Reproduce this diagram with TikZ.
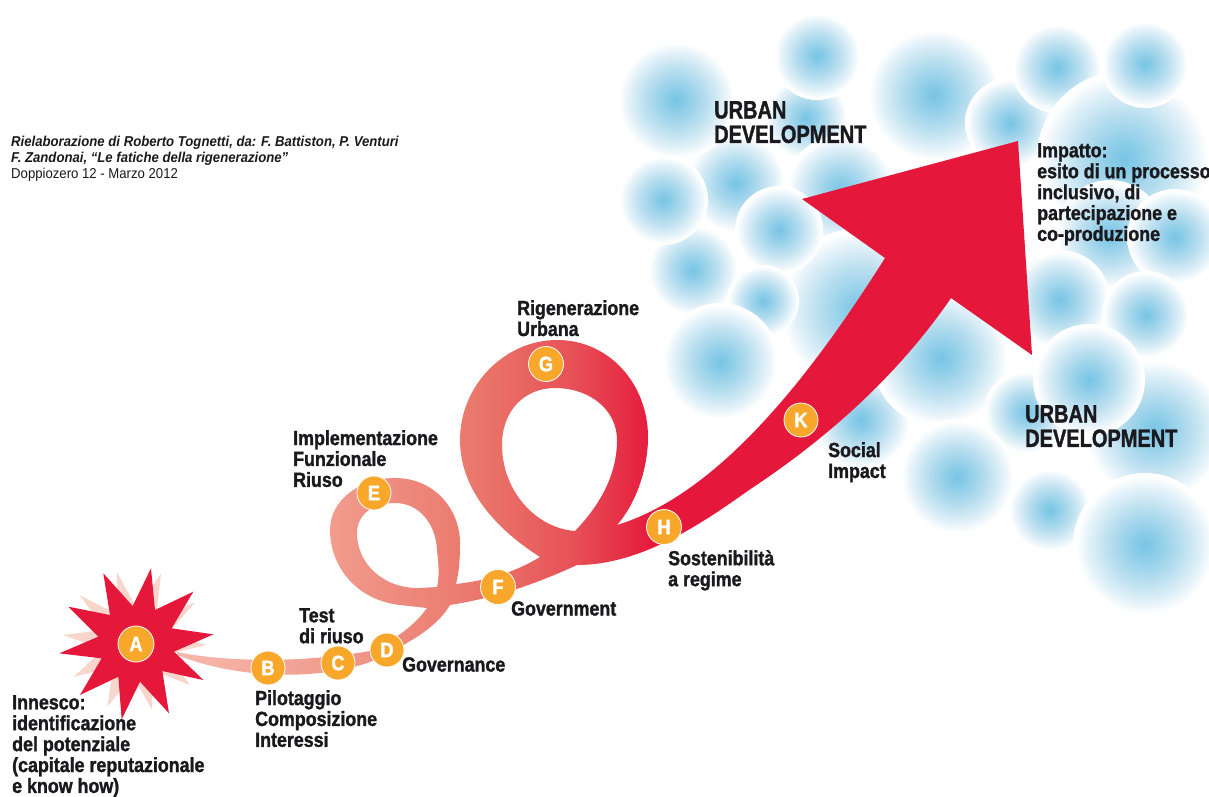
\documentclass[tikz,border=0pt]{standalone}
\usepackage{fontspec}
\setmainfont{Liberation Sans}
\newfontfamily\lblfont[FakeStretch=0.87,FakeBold=1.4]{Liberation Sans Bold}
\newfontfamily\urbfont[FakeStretch=0.8,FakeBold=1.4]{Liberation Sans Bold}
\newfontfamily\capfont[FakeStretch=0.92]{Liberation Sans}
\definecolor{bubC}{HTML}{78C4E4}
\definecolor{bubA}{HTML}{8ACCE8}
\definecolor{bubM}{HTML}{B8DEEF}
\definecolor{bubN}{HTML}{E4F2F9}
\definecolor{redA}{HTML}{E5173A}
\definecolor{pinkS}{HTML}{F9D6CC}
\definecolor{orangeN}{HTML}{F9A72B}
\definecolor{textK}{HTML}{1A1A1E}
\definecolor{ribA}{HTML}{F7BAAE}
\definecolor{ribB}{HTML}{F19C8E}
\definecolor{ribC}{HTML}{EA766A}
\definecolor{ribD}{HTML}{E75258}
\pgfdeclareradialshading{bubble}{\pgfpoint{0bp}{0bp}}{%
 color(0bp)=(bubC); color(4bp)=(bubA); color(12.5bp)=(bubM); color(20bp)=(bubN); color(24bp)=(white); color(25bp)=(white); color(50bp)=(white)}
\pgfdeclarehorizontalshading{ribbon}{100bp}{%
 color(0bp)=(ribA); color(25bp)=(ribA); color(34.2bp)=(ribB); color(42.8bp)=(ribC); color(48bp)=(ribD); color(53bp)=(redA); color(56bp)=(redA); color(100bp)=(redA)}
\tikzset{
  bub/.style={shading=bubble,draw=none},
  step node/.style={circle,fill=orangeN,draw=white,line width=0.8pt,minimum size=#1,inner sep=0pt,text=white,font=\lblfont\fontsize{21}{21}\selectfont},
  lbl/.style={anchor=north west,align=left,inner sep=0pt,text=textK,font=\lblfont\fontsize{20.5}{20.9}\selectfont},
  urb/.style={anchor=north west,align=left,inner sep=0pt,text=textK,font=\urbfont\fontsize{25}{24.5}\selectfont},
  captxt/.style={anchor=north west,align=left,inner sep=0pt,text=textK,font=\capfont\fontsize{14.3}{16.2}\selectfont}
}
\newcommand{\bb}[3]{\path[bub] (#1,#2) circle[radius=#3];}
\begin{document}
\begin{tikzpicture}[x=1pt,y=-1pt]
\useasboundingbox (0,0) rectangle (1209,796);
\fill[white] (0,0) rectangle (1209,796);
% bubbles, back to front
\bb{806}{118}{42}
\bb{841}{190}{55}
\bb{736}{183}{50}
\bb{676}{100}{60}
\bb{934}{95}{68}
\bb{817}{56}{44}
\bb{1010}{123}{45}
\bb{1057}{68}{45}
\bb{1124}{158}{87}
\bb{1145}{64}{44}
\bb{1110}{235}{55}
\bb{1175}{237}{48}
\bb{1060}{300}{50}
\bb{1146}{315}{44}
\bb{693}{270}{46}
\bb{663}{200}{45}
\bb{860}{310}{82}
\bb{779}{230}{44}
\bb{763}{301}{36}
\bb{720}{362}{59}
\bb{861}{420}{50}
\bb{941}{358}{69}
\bb{1155}{430}{72}
\bb{1026}{412}{42}
\bb{1089}{380}{56}
\bb{957}{477}{58}
\bb{1050}{510}{42}
\bb{1145}{545}{72}
% ribbon (one outline with the two loop holes)
\begin{scope}
\clip (177,652) .. controls (215,660) and (290,665) .. (370,651)
  .. controls (395,640) and (415,625) .. (427,608)
  -- (400,605) .. controls (355,600) and (330,565) .. (330,530)
  .. controls (330,500) and (360,478) .. (395,478)
  .. controls (435,478) and (460,510) .. (460,543)
  .. controls (460,560) and (459,572) .. (456,584)
  .. controls (490,580) and (515,572) .. (540,557)
  .. controls (490,525) and (460,485) .. (460,440)
  .. controls (460,385) and (505,340) .. (557,340)
  .. controls (610,340) and (648,385) .. (648,437)
  .. controls (648,470) and (635,505) .. (617,525)
  .. controls (715,495) and (805,385) .. (885,258)
  -- (802,199) -- (1018,141) -- (1032,355) -- (951,298)
  .. controls (905,365) and (840,430) .. (749,490)
  .. controls (700,525) and (640,565) .. (577,565)
  .. controls (540,582) and (500,597) .. (450,605)
  .. controls (435,630) and (405,645) .. (370,662)
  .. controls (320,680) and (240,680) .. (177,655)
  -- cycle
  (437,587) .. controls (440,575) and (438,560) .. (437,550)
  .. controls (436,525) and (420,503) .. (395,503)
  .. controls (372,503) and (357,515) .. (357,533)
  .. controls (357,565) and (385,589) .. (420,588)
  -- cycle
  (575,531) .. controls (600,505) and (617,475) .. (617,440)
  .. controls (617,410) and (590,388) .. (555,388)
  .. controls (525,388) and (502,410) .. (502,445)
  .. controls (502,490) and (535,528) .. (575,531)
  -- cycle;
\path[shading=ribbon] (170,130) rectangle (1040,680);
\end{scope}
% star
\begin{scope}[shift={(0,480)},x=0.33333pt,y=-0.33333pt]
\fill[pinkS] (350,275) -- (412,388) -- (483,280) -- (469,409) -- (585,368) -- (504,460) -- (620,495) -- (502,522) -- (570,615) -- (462,572) -- (455,688) -- (398,587) -- (322,680) -- (340,562) -- (222,590) -- (310,507) -- (188,465) -- (316,449) -- (238,345) -- (354,404) -- cycle;
\fill[redA] (453,265) -- (465,390) -- (580,335) -- (515,445) -- (640,463) -- (522,515) -- (610,600) -- (487,573) -- (507,700) -- (420,605) -- (365,718) -- (355,590) -- (240,645) -- (305,535) -- (178,520) -- (295,470) -- (205,380) -- (330,405) -- (310,280) -- (398,378) -- cycle;
\end{scope}
% step markers
\node[step node=36pt] (A) at (136,644) {A};
\node[step node=34pt] (B) at (268,668) {B};
\node[step node=34pt] (C) at (338,663) {C};
\node[step node=34pt] (D) at (387,650) {D};
\node[step node=34pt] (E) at (374,493) {E};
\node[step node=35pt] (F) at (498,587) {F};
\node[step node=35pt] (G) at (546,364) {G};
\node[step node=35pt] (H) at (664,527) {H};
\node[step node=34pt] (K) at (801,420) {K};
% labels
\node[lbl] (tInnesco) at (12,695) {Innesco:\\identificazione\\del potenziale\\(capitale reputazionale\\e know how)};
\node[lbl] (tPilot) at (255,690) {Pilotaggio\\Composizione\\Interessi};
\node[lbl] (tTest) at (299,608) {Test\\di riuso};
\node[lbl] (tGovce) at (402,657) {Governance};
\node[lbl] (tGovmt) at (511,601) {Government};
\node[lbl] (tImpl) at (293,430) {Implementazione\\Funzionale\\Riuso};
\node[lbl] (tRig) at (517,300) {Rigenerazione\\Urbana};
\node[lbl] (tSost) at (668,550) {Sostenibilità\\a regime};
\node[lbl] (tSoc) at (828,442) {Social\\Impact};
\node[lbl] (tImp) at (1037,143) {Impatto:\\esito di un processo\\inclusivo, di\\partecipazione e\\co-produzione};
\node[urb] (tUrb1) at (714,101) {URBAN\\DEVELOPMENT};
\node[urb] (tUrb2) at (1025,405) {URBAN\\DEVELOPMENT};
\node[captxt] (tCap) at (11,136) {\bfseries\itshape Rielaborazione di Roberto Tognetti, da: F. Battiston, P. Venturi\\\bfseries\itshape F. Zandonai, “Le fatiche della rigenerazione”\\Doppiozero 12 - Marzo 2012};
\end{tikzpicture}
\end{document}
